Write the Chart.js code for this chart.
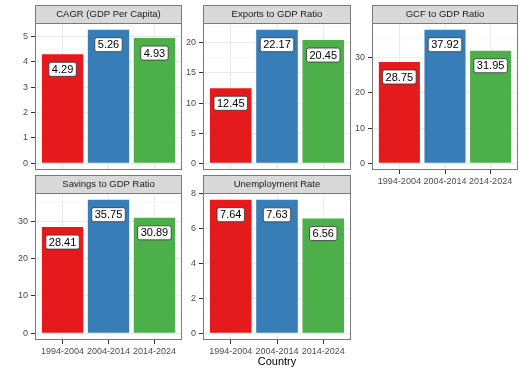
<!DOCTYPE html>
<html><head><meta charset="utf-8">
<script src="https://cdn.jsdelivr.net/npm/chart.js@4"></script>
<style>
html,body{margin:0;padding:0;background:#fff;width:525px;height:374px;overflow:hidden}
canvas{position:absolute;left:0;top:0}
</style></head><body>
<div id="wrap"></div>
<script>
// ---- data ----
const categories = ['1994-2004', '2004-2014', '2014-2024'];
const panelTitles = ['CAGR (GDP Per Capita)', 'Exports to GDP Ratio', 'GCF to GDP Ratio', 'Savings to GDP Ratio', 'Unemployment Rate'];
const cagr = [4.29, 5.26, 4.93];
const exportsRatio = [12.45, 22.17, 20.45];
const gcfRatio = [28.75, 37.92, 31.95];
const savingsRatio = [28.41, 35.75, 30.89];
const unemployment = [7.64, 7.63, 6.56];
const yTicksCagr = [0, 1, 2, 3, 4, 5];
const yTicksExports = [0, 5, 10, 15, 20];
const yTicksGcf = [0, 10, 20, 30];
const yTicksSavings = [0, 10, 20, 30];
const yTicksUnemp = [0, 2, 4, 6, 8];
const barColors = ['#E41A1C', '#377EB8', '#4DAF4A'];
const xTitle = 'Country';

// ---- layout ----
const W = 525, H = 374;
const FONT = '"Liberation Sans", Arial, sans-serif';
const panels = [
  {values: cagr, ticks: yTicksCagr, l: 35, r: 182, t: 23, b: 170, xlab: false, title: false},
  {values: exportsRatio, ticks: yTicksExports, l: 203, r: 351, t: 23, b: 170, xlab: false, title: false},
  {values: gcfRatio, ticks: yTicksGcf, l: 372, r: 518, t: 23, b: 170, xlab: true, title: false},
  {values: savingsRatio, ticks: yTicksSavings, l: 35, r: 182, t: 193, b: 340, xlab: true, title: false},
  {values: unemployment, ticks: yTicksUnemp, l: 203, r: 351, t: 193, b: 340, xlab: true, title: true},
];

function roundRect(ctx, x, y, w, h, r) {
  ctx.beginPath();
  ctx.moveTo(x + r, y);
  ctx.lineTo(x + w - r, y); ctx.arcTo(x + w, y, x + w, y + r, r);
  ctx.lineTo(x + w, y + h - r); ctx.arcTo(x + w, y + h, x + w - r, y + h, r);
  ctx.lineTo(x + r, y + h); ctx.arcTo(x, y + h, x, y + h - r, r);
  ctx.lineTo(x, y + r); ctx.arcTo(x, y, x + r, y, r);
  ctx.closePath();
}

const facetPlugin = {
  id: 'facet',
  beforeDraw(chart, args, opts) {
    const {ctx, chartArea: a} = chart;
    const y = chart.scales.y;
    const tk = opts.ticks;
    const step = tk[1] - tk[0];
    const minors = [];
    for (let i = 0; i < tk.length - 1; i++) minors.push((tk[i] + tk[i + 1]) / 2);
    minors.push(tk[tk.length - 1] + step / 2);
    minors.push(tk[0] - step / 2);
    ctx.save();
    ctx.strokeStyle = '#F2F2F2';
    ctx.lineWidth = 0.6;
    minors.forEach(v => {
      const py = y.getPixelForValue(v);
      if (py >= a.top && py <= a.bottom) {
        ctx.beginPath(); ctx.moveTo(a.left, py); ctx.lineTo(a.right, py); ctx.stroke();
      }
    });
    ctx.restore();
  },
  afterDatasetsDraw(chart) {
    const {ctx} = chart;
    const meta = chart.getDatasetMeta(0);
    const ds = chart.data.datasets[0];
    ctx.save();
    ctx.font = '11px ' + FONT;
    ctx.textAlign = 'center';
    ctx.textBaseline = 'middle';
    meta.data.forEach((bar, i) => {
      const txt = ds.data[i].y.toFixed(2);
      const tw = ctx.measureText(txt).width;
      const bw = tw + 6, bh = 14;
      const cx = bar.x, cy = bar.y + 15;
      roundRect(ctx, cx - bw / 2, cy - bh / 2, bw, bh, 2);
      ctx.fillStyle = '#fff';
      ctx.fill();
      ctx.strokeStyle = '#333';
      ctx.lineWidth = 0.8;
      ctx.stroke();
      ctx.fillStyle = '#000';
      ctx.fillText(txt, cx, cy + 0.5);
    });
    ctx.restore();
  },
  afterDraw(chart, args, opts) {
    const {ctx, chartArea: a} = chart;
    ctx.save();
    ctx.strokeStyle = '#7a7a7a';
    ctx.lineWidth = 1;
    ctx.strokeRect(a.left + 0.5, a.top + 0.5, a.right - a.left - 1, a.bottom - a.top - 1);
    // strip
    const sh = 18;
    ctx.fillStyle = '#D9D9D9';
    ctx.fillRect(a.left, a.top - sh, a.right - a.left, sh);
    ctx.strokeRect(a.left + 0.5, a.top - sh + 0.5, a.right - a.left - 1, sh);
    ctx.fillStyle = '#1A1A1A';
    ctx.font = '9.5px ' + FONT;
    ctx.textAlign = 'center';
    ctx.textBaseline = 'middle';
    ctx.fillText(opts.title, (a.left + a.right) / 2, a.top - sh / 2 + 0.5);
    ctx.restore();
  }
};

const wrap = document.getElementById('wrap');
panels.forEach((p, idx) => {
  const cv = document.createElement('canvas');
  cv.width = W; cv.height = H;
  wrap.appendChild(cv);
  const maxV = Math.max(...p.values);
  const xH = p.xlab ? (p.title ? 29 : 22) : 0;
  new Chart(cv, {
    type: 'bar',
    data: {
      datasets: [{
        data: p.values.map((v, i) => ({x: i + 1, y: v})),
        backgroundColor: barColors,
        barPercentage: 0.9,
        categoryPercentage: 1.0,
      }]
    },
    options: {
      responsive: false,
      animation: false,
      devicePixelRatio: 1,
      events: [],
      layout: {padding: {left: p.l - 20, right: W - p.r, top: p.t, bottom: H - p.b - xH}},
      plugins: {
        legend: {display: false},
        tooltip: {enabled: false},
        facet: {title: panelTitles[idx], ticks: p.ticks}
      },
      scales: {
        x: {
          type: 'linear',
          offset: false,
          min: 0.4, max: 3.6,
          afterBuildTicks: s => { s.ticks = categories.map((c, i) => ({value: i + 1})); },
          afterFit: s => { s.height = xH; },
          ticks: {
            display: p.xlab,
            autoSkip: false, maxRotation: 0, minRotation: 0,
            padding: 2,
            color: '#4D4D4D',
            font: {size: 9, family: FONT},
            callback: v => categories[Math.round(v) - 1]
          },
          grid: {offset: false, color: '#EBEBEB', lineWidth: 1, tickColor: '#333', tickLength: 4, drawTicks: p.xlab},
          border: {display: false},
          title: {display: p.title, text: xTitle, color: '#000', font: {size: 11, family: FONT}, padding: 0}
        },
        y: {
          min: -0.05 * maxV, max: 1.05 * maxV,
          afterBuildTicks: s => { s.ticks = p.ticks.map(v => ({value: v})); },
          afterFit: s => { s.width = 20; },
          ticks: {color: '#4D4D4D', font: {size: 9, family: FONT}, padding: 3},
          grid: {color: '#EBEBEB', lineWidth: 1, tickColor: '#333', tickLength: 4},
          border: {display: false}
        }
      }
    },
    plugins: [facetPlugin]
  });
});
</script>
</body></html>
